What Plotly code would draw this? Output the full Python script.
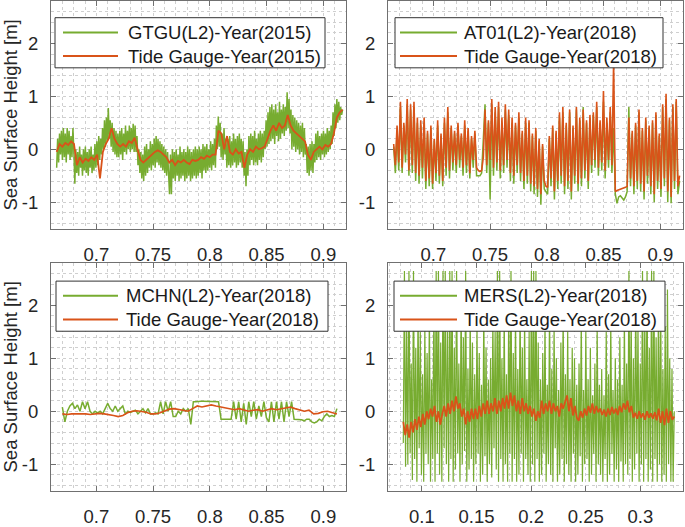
import numpy as np
import plotly.graph_objects as go

W, H = 685, 527

# ---------------- data ----------------
# time axis: fraction of the year, each series evenly sampled between start and end
gtgu_period = [0.665, 0.917]
gtgu_ssh = [
    -0.35, 0.2, -0.25, 0.3, -0.1, 0.35, -0.2, 0.4, -0.15, 0.3, -0.25, 0.4, -0.1, 0.35, -0.2, 0.25, -0.15, 0.4, -0.05,
    -0.65, 0.0, -0.45, -0.05, -0.5, 0.05, -0.35, -0.1, -0.5, 0.0, -0.4, 0.05, -0.45, -0.05, -0.5, 0.0, -0.35, 0.05, -0.45, -0.1, -0.4, 0.1,
    -0.35, 0.15, -0.3, 0.25, -0.2, 0.2, -0.1, 0.4, 0.0, 0.55, 0.05, 0.6, 0.15, 0.78, 0.2,
    0.55, 0.05, 0.5, -0.05, 0.4, -0.1, 0.35, -0.15, 0.3,
    -0.15, 0.35, -0.1, 0.4, -0.2, 0.3, -0.05, 0.45, -0.1, 0.35, 0.0, 0.45, -0.05, 0.4, 0.0, 0.48, -0.05, 0.45,
    -0.05, 0.25, -0.3, 0.0, -0.45, -0.05, -0.55, -0.1,
    -0.6, 0.05, -0.5, 0.1, -0.45, 0.0, -0.35, 0.15, -0.4, 0.1, -0.3, 0.2, -0.35, 0.25, -0.25, 0.2,
    -0.3, 0.15, -0.35, 0.1, -0.4, 0.05, -0.45, 0.0,
    -0.5, -0.05, -0.6, -0.85, -0.1, -0.85, 0.0, -0.55, -0.05, -0.6, 0.0, -0.5, -0.1, -0.6, 0.05, -0.55, -0.05,
    -0.5, 0.0, -0.6, -0.05, -0.55, 0.05, -0.5, 0.0, -0.6, -0.05, -0.55, 0.0, -0.5, 0.05, -0.55, 0.0,
    -0.5, 0.05, -0.45, 0.0, -0.55, 0.1, -0.4, 0.05, -0.45, 0.1, -0.4, 0.0, -0.35, 0.15, -0.4, 0.1, -0.3, 0.2, -0.35,
    0.45, 0.0, 0.62, 0.05, 0.5,
    -0.15, 0.3, -0.2, 0.4, -0.1, 0.2,
    -0.35, 0.2, -0.3, 0.25, -0.35, 0.15, -0.3, 0.3, -0.25, 0.2, -0.35, 0.25, -0.3, 0.3, -0.25, 0.2, -0.35, 0.15,
    -0.5, -0.05, -0.7, 0.0, -0.5,
    0.25, -0.3, 0.3, -0.2, 0.25, -0.3, 0.35, -0.25, 0.2, -0.3, 0.3, -0.2, 0.35, -0.25, 0.3, -0.15, 0.35,
    0.0, 0.55, 0.05, 0.7, 0.1, 0.8, 0.15,
    0.85, 0.2, 0.75, 0.1, 0.85, 0.25, 0.7, 0.15, 0.9, 0.2, 0.75, 0.3, 0.85, 0.25, 0.8,
    0.35, 1.08, 0.4, 0.95, 0.3,
    0.75, 0.0, 0.65, 0.05, 0.6, -0.05, 0.55, 0.0, 0.5, -0.1, 0.45, -0.05, 0.5, -0.15, 0.4, -0.1,
    0.1, -0.45, 0.05, -0.5, 0.1, -0.4, 0.15, -0.45, 0.1,
    -0.25, 0.3, -0.2, 0.35, -0.15, 0.25, -0.2, 0.3, -0.1, 0.35, -0.15, 0.3, -0.1, 0.4, -0.05, 0.35, 0.0, 0.45, 0.1,
    0.7, 0.25, 0.85, 0.4, 0.95, 0.5, 0.9, 0.55, 0.8, 0.65, 0.75,
]
tg2015_ssh = [
    -0.05, 0.1, 0.05, 0.12, 0.08, 0.15, 0.1,
    -0.3, -0.15, -0.25, -0.18, -0.22, -0.15, -0.2,
    -0.1, -0.55, -0.05, 0.1, 0.2, 0.4,
    0.2, 0.1, 0.05,
    0.1, 0.05, 0.15, 0.12, 0.22,
    0.0, -0.2, -0.25,
    -0.2, -0.15, -0.1, -0.05, -0.02,
    -0.05, -0.1, -0.15,
    -0.25, -0.2, -0.3, -0.22, -0.25, -0.2, -0.25, -0.28, -0.2, -0.22,
    -0.2, -0.15, -0.18, -0.12, -0.15, -0.1, -0.1,
    0.35, 0.3, 0.0, 0.25,
    -0.05, -0.1, 0.0, -0.08, -0.05,
    -0.35, -0.1,
    0.0, -0.05, 0.05, 0.0, 0.02, 0.05,
    0.2, 0.35,
    0.45, 0.35, 0.5, 0.4, 0.45,
    0.65, 0.45,
    0.35, 0.3, 0.25, 0.2, 0.15,
    -0.1, -0.2, -0.05,
    0.0, 0.05, 0.0, 0.08, 0.05, 0.1,
    0.3, 0.6, 0.7, 0.75,
]

at01_period = [0.665, 0.917]
at01_ssh = [
    0.05, -0.45, 0.35, -0.4, 0.8, -0.45, 0.45, -0.25, 0.85, -0.5, 0.75, -0.45, 0.8, -0.6, 0.5, -0.65, 0.45, -0.55,
    0.5, -0.75, 0.3, -0.7, 0.4, -0.75, 0.15, -0.6, 0.45, -0.65, 0.25, -0.7, 0.5, -0.5, 0.7, -0.55, 0.4, -0.4, 0.3, -0.45,
    0.45, -0.35, 0.25, -0.5, 0.45, -0.45, 0.35, -0.55, 0.2, -0.35, 0.3, -0.5,
    -0.5, -0.5, -0.45, 0.3,
    0.85, -0.45, 0.5, -0.95, 0.85, -0.5, 0.7, -0.4, 0.8, -0.55, 0.5, -0.45, 0.75, -0.35, 0.65, -0.6, 0.5,
    -0.65, 0.45, -0.45, 0.6, -0.6, 0.3, -0.75, 0.5, -0.65, 0.5, -0.8, 0.25, -0.85, 0.35,
    -0.9, 0.15, -1.05, 0.05, -0.75, -0.8, -0.85, 0.2, -0.7, 0.4, -0.95, 0.3, -0.75,
    0.6, -0.65, 0.7, -0.85, 0.45, -0.75, 0.7, -0.95, 0.4, -0.65, 0.75, -0.8, 0.55, -0.7, 0.8, -0.55, 0.5, -0.75, 0.6, -0.45,
    0.65, -0.35, 0.8, -0.5, 0.5, -0.4, 0.9, -0.55, 0.5, -0.35, 0.7, -0.45,
    0.4,
    -0.85, -1.02, -0.9, -0.88, -0.92, -0.96, -0.9, -0.8,
    0.8, -0.7, 0.3, -0.85, 0.45, -0.75, 0.7, -0.8, 0.35, -0.95, 0.55, -0.65, 0.4, -0.85, 0.5, -1.0,
    0.65, -0.75, 0.25, -0.9, 0.8, -0.7, 0.95, -1.0, 0.55, -1.02, 0.8, -0.75, 0.9, -0.85, -0.6,
]
tg2018a_ssh = [
    0.1, -0.3, 0.45, -0.25, 0.9, -0.35, 0.5, -0.1, 0.95, -0.4, 0.85, -0.3, 0.9, -0.45, 0.6, -0.5, 0.55, -0.35,
    0.6, -0.6, 0.35, -0.55, 0.45, -0.65, 0.2, -0.45, 0.55, -0.5, 0.3, -0.6, 0.6, -0.35, 0.8, -0.4, 0.45, -0.25, 0.35, -0.3,
    0.5, -0.2, 0.3, -0.35, 0.55, -0.3, 0.4, -0.45, 0.25, -0.2, 0.35, -0.35,
    -0.4, -0.42, -0.4, -0.15,
    0.75, -0.3, 0.55, -0.2, 0.95, -0.35, 0.8, -0.25, 0.9, -0.4, 0.6, -0.3, 0.85, -0.2, 0.75, -0.45, 0.6,
    -0.5, 0.5, -0.3, 0.7, -0.45, 0.35, -0.6, 0.6, -0.5, 0.55, -0.65, 0.3, -0.7, 0.4,
    -0.75, 0.2, -0.85, 0.1, -0.6, -0.7, -0.72, 0.25, -0.55, 0.45, -0.8, 0.35, -0.6,
    0.7, -0.5, 0.8, -0.7, 0.5, -0.6, 0.75, -0.8, 0.45, -0.5, 0.8, -0.65, 0.6, -0.55, 0.75, -0.4, 0.55, -0.6, 0.65, -0.3,
    0.7, -0.2, 0.9, -0.35, 0.55, -0.25, 1.1, -0.4, 0.6, -0.2, 0.8, -0.3,
    1.65,
    -0.8, -0.78, -0.77, -0.76, -0.74, -0.73, -0.72, -0.7,
    0.6, -0.55, 0.35, -0.7, 0.5, -0.6, 0.75, -0.65, 0.4, -0.8, 0.6, -0.5, 0.45, -0.7, 0.55, -0.85,
    0.7, -0.6, 0.3, -0.75, 0.85, -0.55, 1.05, -0.8, 0.6, -0.9, 0.85, -0.6, 0.95, -0.7, -0.5,
]

mchn_period = [0.67, 0.912]
mchn_ssh = [
    0.08, -0.2, 0.0, 0.1, 0.15,
    0.05, 0.12, 0.0, 0.18, 0.05, 0.18, 0.0,
    -0.05, 0.0, -0.03, 0.0, -0.05,
    0.05, 0.15, 0.05, 0.0, 0.1, 0.0, 0.05, 0.1, -0.05,
    0.0, -0.02, 0.0, 0.02, -0.05, 0.0, 0.05, -0.03, 0.05,
    -0.05, -0.05, -0.03, -0.05,
    0.18, -0.05, 0.18, 0.0, 0.18, -0.1,
    -0.1, 0.0, -0.05, 0.05, 0.0, 0.05,
    -0.25,
    0.18, 0.18, 0.19, 0.19, 0.19, 0.19, 0.19, 0.19, 0.19, 0.19, 0.18,
    -0.15, -0.15, -0.15, -0.14, -0.15,
    0.18, -0.15, 0.18, -0.2, 0.15, -0.25,
    0.18, -0.1, 0.18, -0.15, 0.1, -0.1, 0.18, -0.12,
    -0.2, 0.18, -0.2, 0.18, -0.15, 0.18, -0.2, 0.18, -0.1, 0.18, -0.15,
    -0.15, -0.15, -0.16, -0.18, -0.15, -0.15,
    -0.2, -0.22, -0.2, -0.15, -0.18,
    -0.1, -0.05, -0.1, -0.08, -0.1, 0.05,
]
tg2018b_ssh = [
    -0.05, -0.06, -0.05, -0.05, -0.04, -0.05, -0.06, -0.05, -0.04, -0.05, -0.06, -0.08, -0.1,
    -0.08, -0.03, 0.0, 0.01, 0.0, -0.02, -0.05, -0.05,
    -0.03, 0.0, 0.04, 0.05, 0.03, 0.02, 0.0, 0.05,
    0.1, 0.08, 0.1, 0.12, 0.1, 0.08, 0.06, 0.05,
    0.03, 0.05, 0.02, 0.0, 0.02, 0.03, 0.0, 0.02, 0.05, 0.03,
    0.05, 0.06, 0.08, 0.05, 0.03, 0.0, 0.02,
    -0.05, -0.04, -0.01, 0.0, -0.02, -0.05,
]

mers_period = [0.083, 0.331]
mers_ssh = [
    -0.6, 2.65, -1.05, 1.6, -1.0, 2.65, -0.8, 0.9, -1.3, 2.65, -0.9, 1.2, -1.33, 2.0, -0.7, 1.5,
    -1.2, 0.7, -1.33, 1.6, -0.8, 1.1, -1.0, 1.9, -1.33, 0.6, -0.9, 2.1,
    -1.33, 2.65, -0.8, 2.65, -1.2, 1.3, -1.33, 2.65, -0.7, 2.65, -1.0, 1.5, -1.33, 2.65, -0.9, 2.65, -1.33,
    1.2, -1.1, 2.65, -0.8, 0.9, -1.33, 2.2, -1.0, 1.4, -0.75, 2.65, -1.33, 0.8, -1.1, 1.9, -0.9,
    1.3, -1.33, 0.7, -1.0, 1.6, -0.8, 1.1, -1.33, 0.5, -1.2, 1.9, -0.85, 1.2, -1.33, 0.6, -1.0, 1.0, -1.25, 1.8, -0.7, 1.5,
    -1.1, 2.65, -1.33, 2.65, -0.9, 1.0, -1.33, 1.9, -1.0, 0.7, -1.33, 2.0, -0.8,
    2.65, -1.33, 1.1, -0.9, 1.9, -1.33, 0.8, -1.2, 2.1, -0.8, 1.2, -1.33, 1.8, -0.9, 0.6, -1.2, 1.5,
    -1.33, 2.65, -1.0, 2.65, -1.33, 2.65,
    -0.9, 1.3, -1.33, 0.6, -1.2, 1.1, -0.8, 1.7, -1.33, 0.5, -1.0, 2.0, -1.2, 0.8, -1.33, 1.6,
    -0.7, 1.0, -1.33, 0.4, -1.2, 1.3, -0.9, 1.9, -1.33, 0.7, -1.0, 1.5, -1.2, 0.6, -1.33, 1.2,
    -0.8, 1.0, -1.33, 0.5, -1.2, 0.9, -0.85, 1.8, -1.33, 0.4, -1.0, 1.5, -0.9, 0.6, -1.33, 1.2,
    -1.2, 0.3, -0.8, 0.9, -1.33, 1.6, -1.0, 0.5, -1.2, 0.8, -1.33, 0.3, -0.9, 1.5, -1.33, 0.7,
    -1.2, 1.7, -0.8, 0.4, -1.33, 1.0, -1.1, 0.6, -1.33, 1.4, -0.95, 0.5, -1.33, 1.8, -1.0, 0.9,
    -1.2, 2.65, -0.9, 1.9, -1.33, 1.0, -1.1, 2.2, -0.8, 1.6, -1.33, 0.9, -1.0, 2.65, -1.33, 1.8,
    -0.9, 2.65, -1.33, 1.2, -1.1, 2.65, -1.33, 2.65, -0.9, 1.4, -1.33, 1.9, -1.0, 2.2, -1.33, 0.8,
    -1.2, 1.6, -1.33,
    2.3, -1.0, 1.0, -1.33, 0.8, -1.33, 0.0,
]
tg2018c_ssh = [
    -0.2, -0.45, -0.25, -0.5, -0.2, -0.4, -0.15, -0.35, -0.1,
    -0.3, -0.05, -0.25, 0.0, -0.15, 0.05,
    -0.1, 0.1, -0.2, 0.0, -0.25, -0.05,
    0.1, -0.1, 0.15, -0.05, 0.2,
    0.0, 0.28, 0.05, 0.15, -0.1, 0.05,
    -0.25, 0.0, -0.2, 0.05, -0.15,
    0.05, -0.15, 0.1, -0.1, 0.15, -0.05,
    0.2, -0.05, 0.15, 0.0, 0.25, -0.05, 0.2, 0.0, 0.25, 0.05, 0.3,
    0.05, 0.35, 0.1, 0.3, 0.0,
    0.2, -0.05, 0.25, 0.0, 0.15, -0.05, 0.1, -0.1, 0.05,
    -0.18, 0.0, -0.12,
    0.2, -0.05, 0.15, 0.0, 0.2, -0.05, 0.15, 0.0,
    0.1, -0.1, 0.15, 0.05, 0.2,
    0.3, 0.0, 0.25, -0.08, 0.1, -0.12,
    -0.18, 0.0, -0.12,
    0.05, -0.08, 0.1, -0.03, 0.15, -0.05, 0.1, -0.02,
    0.05, -0.07, 0.03, -0.1, 0.05, -0.07, 0.08, -0.04, 0.05, -0.07, 0.1,
    -0.02, 0.15, 0.03, 0.2, -0.02, 0.1,
    -0.12, -0.03, -0.14,
    0.0, -0.12, -0.04, -0.16, 0.0, -0.12, -0.04, -0.14, -0.02, -0.17, 0.05, -0.22, 0.0, -0.26, 0.05, -0.22, 0.0, -0.16, -0.1,
]

panel_names = [
    ["GTGU(L2)-Year(2015)", "Tide Gauge-Year(2015)"],
    ["AT01(L2)-Year(2018)", "Tide Gauge-Year(2018)"],
    ["MCHN(L2)-Year(2018)", "Tide Gauge-Year(2018)"],
    ["MERS(L2)-Year(2018)", "Tide Gauge-Year(2018)"],
]
x_ranges = [[0.66, 0.92], [0.66, 0.92], [0.66, 0.92], [0.069, 0.339]]
x_tickvals = [[0.7, 0.75, 0.8, 0.85, 0.9]] * 3 + [[0.1, 0.15, 0.2, 0.25, 0.3]]
x_ticktext = [["0.7", "0.75", "0.8", "0.85", "0.9"]] * 3 + [["0.1", "0.15", "0.2", "0.25", "0.3"]]
y_range = [-1.5, 2.8]
y_tickvals = [-1, 0, 1, 2]
y_ticktext = ["-1", "0", "1", "2"]
y_title = "Sea Surface Height [m]"

# ---------------- styling ----------------
GREEN = "#77AC30"
ORANGE = "#D95319"
AXC = "#707070"
GRID = "#cfcfcf"
TXT = "#262626"
FONT = "Liberation Sans, Arial, sans-serif"
FS = 18.5

# panel boxes in pixels: (left, right, top, bottom)
boxes = [(51, 346, 1.2, 232.6), (388, 683, 1.2, 232.6),
         (51, 346, 267.6, 499.2), (388, 683, 267.6, 499.2)]
# legend boxes in pixels: (left, right, top, line_x0, line_x1, text_x)
legends = [(55, 325, 18, 63, 118, 126), (395, 663, 18, 400, 457, 462),
           (56, 328, 286, 63, 118, 124), (394, 665, 286, 400, 457, 462)]


def px(x):
    return x / W


def py(y):
    return 1 - y / H


fig = go.Figure()

series = [
    (gtgu_period, gtgu_ssh, tg2015_ssh),
    (at01_period, at01_ssh, tg2018a_ssh),
    (mchn_period, mchn_ssh, tg2018b_ssh),
    (mers_period, mers_ssh, tg2018c_ssh),
]
green_w = [1.5, 1.5, 1.5, 1.2]
orange_w = [1.8, 1.6, 1.6, 1.8]

for k, (period, sat, tg) in enumerate(series):
    xa = "x" if k == 0 else f"x{k + 1}"
    ya = "y" if k == 0 else f"y{k + 1}"
    t_sat = np.linspace(period[0], period[1], len(sat))
    t_tg = np.linspace(period[0], period[1], len(tg))
    fig.add_trace(go.Scatter(x=t_sat, y=sat, mode="lines", name=panel_names[k][0],
                             line=dict(color=GREEN, width=green_w[k]), xaxis=xa, yaxis=ya,
                             showlegend=False))
    fig.add_trace(go.Scatter(x=t_tg, y=tg, mode="lines", name=panel_names[k][1],
                             line=dict(color=ORANGE, width=orange_w[k]), xaxis=xa, yaxis=ya,
                             showlegend=False))

layout = dict(
    width=W, height=H, margin=dict(l=0, r=0, t=0, b=0),
    paper_bgcolor="white", plot_bgcolor="white",
    font=dict(family=FONT, size=FS, color=TXT),
    showlegend=False,
)

for k, (l, r, t, b) in enumerate(boxes):
    xk = "xaxis" if k == 0 else f"xaxis{k + 1}"
    yk = "yaxis" if k == 0 else f"yaxis{k + 1}"
    xa = "x" if k == 0 else f"x{k + 1}"
    ya = "y" if k == 0 else f"y{k + 1}"
    layout[xk] = dict(
        domain=[px(l), px(r)], range=x_ranges[k], anchor=ya,
        tickmode="array", tickvals=x_tickvals[k], ticktext=x_ticktext[k],
        ticks="inside", ticklen=5, tickcolor=AXC, showline=True, linecolor=AXC,
        linewidth=1, mirror="ticks", showgrid=True, gridcolor=GRID, griddash="dot",
        gridwidth=1, zeroline=False, ticklabelstandoff=9,
        tickfont=dict(size=FS, color=TXT, family=FONT),
        minor=dict(tickmode="linear", tick0=0, dtick=0.01, showgrid=True,
                   gridcolor=GRID, griddash="dot", gridwidth=1, ticks=""),
    )
    layout[yk] = dict(
        domain=[py(b), py(t)], range=y_range, anchor=xa,
        tickmode="array", tickvals=y_tickvals, ticktext=y_ticktext,
        ticks="inside", ticklen=5, tickcolor=AXC, showline=True, linecolor=AXC,
        linewidth=1, mirror="ticks", showgrid=True, gridcolor=GRID, griddash="dot",
        gridwidth=1, zeroline=False, ticklabelstandoff=8,
        tickfont=dict(size=FS, color=TXT, family=FONT),
        minor=dict(tickmode="linear", tick0=0, dtick=0.2, showgrid=True,
                   gridcolor=GRID, griddash="dot", gridwidth=1, ticks=""),
    )
    if k in (0, 2):
        layout[yk]["title"] = dict(text=y_title, standoff=3,
                                   font=dict(size=FS, color=TXT, family=FONT))

shapes = []
annotations = []
for k, (l, r, t, lx0, lx1, tx) in enumerate(legends):
    shapes.append(dict(type="rect", xref="paper", yref="paper",
                       x0=px(l), x1=px(r), y0=py(t + 51), y1=py(t),
                       line=dict(color="#333333", width=1), fillcolor="white",
                       layer="above"))
    for j, (color, dy) in enumerate([(GREEN, 15), (ORANGE, 39)]):
        shapes.append(dict(type="line", xref="paper", yref="paper",
                           x0=px(lx0), x1=px(lx1), y0=py(t + dy), y1=py(t + dy),
                           line=dict(color=color, width=2), layer="above"))
        annotations.append(dict(text=panel_names[k][j], xref="paper", yref="paper",
                                x=px(tx), y=py(t + dy), xanchor="left", yanchor="middle",
                                showarrow=False,
                                font=dict(size=FS, color="#1a1a1a", family=FONT)))

layout["shapes"] = shapes
layout["annotations"] = annotations
fig.update_layout(**layout)
fig.write_html("out.html",
               config={"displayModeBar": False},
               post_script="document.body.style.margin='0px';"
                           "document.body.style.overflow='hidden';")
